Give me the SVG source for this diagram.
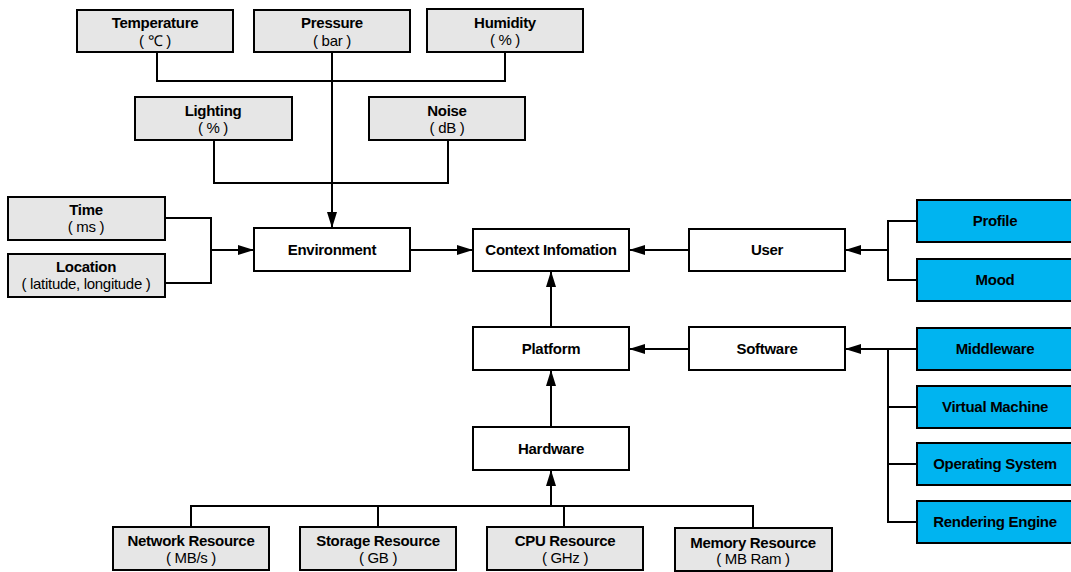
<svg xmlns="http://www.w3.org/2000/svg" width="1071" height="572" viewBox="0 0 1071 572">
<style>
.g{fill:#e6e6e6;stroke:#000;stroke-width:2}
.w{fill:#fff;stroke:#000;stroke-width:2}
.b{fill:#00b4f0;stroke:#000;stroke-width:2}
.t{font-family:"Liberation Sans",Arial,sans-serif;font-weight:bold;font-size:15px;text-anchor:middle;fill:#000;letter-spacing:-0.3px}
.u{font-family:"Liberation Sans",Arial,sans-serif;font-size:15px;text-anchor:middle;fill:#000;letter-spacing:-0.3px}
.c{fill:none;stroke:#000;stroke-width:2}
</style>
<defs>
<marker id="ah" markerUnits="userSpaceOnUse" markerWidth="17" markerHeight="12" refX="16" refY="5" orient="auto">
<path d="M0,0 L16,5 L0,10 z" fill="#000"/>
</marker>
</defs>
<rect width="1071" height="572" fill="#fff"/>
<g id="connectors">
<path class="c" d="M157,52 V81 H505 V52"/>
<path class="c" d="M214,140 V183 H448 V140"/>
<path class="c" d="M332,52 V228" marker-end="url(#ah)"/>
<path class="c" d="M165,218 H211 V283 H165"/>
<path class="c" d="M211,250 H254" marker-end="url(#ah)"/>
<path class="c" d="M410,250 H473" marker-end="url(#ah)"/>
<path class="c" d="M689,250 H629" marker-end="url(#ah)"/>
<path class="c" d="M917,221 H888 V280 H917"/>
<path class="c" d="M888,250 H845" marker-end="url(#ah)"/>
<path class="c" d="M551,327 V271" marker-end="url(#ah)"/>
<path class="c" d="M689,349 H629" marker-end="url(#ah)"/>
<path class="c" d="M917,349 H845" marker-end="url(#ah)"/>
<path class="c" d="M888,349 V522 H917 M888,407 H917 M888,464 H917"/>
<path class="c" d="M551,427 V370" marker-end="url(#ah)"/>
<path class="c" d="M191,527 V506 H753 V527 M378,506 V527 M564,506 V527"/>
<path class="c" d="M551,506 V470" marker-end="url(#ah)"/>
</g>
<g id="temperature"><rect class="g" x="77" y="10" width="156" height="42"/><text class="t" x="155" y="28">Temperature</text><text class="u" x="155" y="46">( ℃ )</text></g>
<g id="pressure"><rect class="g" x="254" y="10" width="156" height="42"/><text class="t" x="332" y="28">Pressure</text><text class="u" x="332" y="46">( bar )</text></g>
<g id="humidity"><rect class="g" x="427" y="9" width="156" height="43"/><text class="t" x="505" y="28">Humidity</text><text class="u" x="505" y="45">( % )</text></g>
<g id="lighting"><rect class="g" x="135" y="97" width="157" height="43"/><text class="t" x="213" y="116">Lighting</text><text class="u" x="213" y="133">( % )</text></g>
<g id="noise"><rect class="g" x="369" y="97" width="156" height="43"/><text class="t" x="447" y="116">Noise</text><text class="u" x="447" y="133">( dB )</text></g>
<g id="time"><rect class="g" x="8" y="197" width="157" height="43"/><text class="t" x="86" y="215">Time</text><text class="u" x="86" y="232">( ms )</text></g>
<g id="location"><rect class="g" x="8" y="254" width="157" height="43"/><text class="t" x="86" y="272">Location</text><text class="u" x="86" y="289">( latitude, longitude )</text></g>
<g id="environment"><rect class="w" x="254" y="228" width="156" height="43"/><text class="t" x="332" y="255">Environment</text></g>
<g id="context"><rect class="w" x="473" y="229" width="156" height="42"/><text class="t" x="551" y="255">Context Infomation</text></g>
<g id="user"><rect class="w" x="689" y="229" width="156" height="42"/><text class="t" x="767" y="255">User</text></g>
<g id="profile"><rect class="b" x="917" y="200" width="156" height="42"/><text class="t" x="995" y="226">Profile</text></g>
<g id="mood"><rect class="b" x="917" y="259" width="156" height="42"/><text class="t" x="995" y="285">Mood</text></g>
<g id="platform"><rect class="w" x="473" y="327" width="156" height="43"/><text class="t" x="551" y="354">Platform</text></g>
<g id="software"><rect class="w" x="689" y="327" width="156" height="43"/><text class="t" x="767" y="354">Software</text></g>
<g id="middleware"><rect class="b" x="917" y="328" width="156" height="42"/><text class="t" x="995" y="354">Middleware</text></g>
<g id="vm"><rect class="b" x="917" y="386" width="156" height="42"/><text class="t" x="995" y="412">Virtual Machine</text></g>
<g id="os"><rect class="b" x="917" y="443" width="156" height="42"/><text class="t" x="995" y="469">Operating System</text></g>
<g id="rendering"><rect class="b" x="917" y="501" width="156" height="42"/><text class="t" x="995" y="527">Rendering Engine</text></g>
<g id="hardware"><rect class="w" x="473" y="427" width="156" height="43"/><text class="t" x="551" y="454">Hardware</text></g>
<g id="network"><rect class="g" x="113" y="527" width="156" height="43"/><text class="t" x="191" y="546">Network Resource</text><text class="u" x="191" y="563">( MB/s )</text></g>
<g id="storage"><rect class="g" x="300" y="527" width="156" height="43"/><text class="t" x="378" y="546">Storage Resource</text><text class="u" x="378" y="563">( GB )</text></g>
<g id="cpu"><rect class="g" x="487" y="527" width="156" height="43"/><text class="t" x="565" y="546">CPU Resource</text><text class="u" x="565" y="563">( GHz )</text></g>
<g id="memory"><rect class="g" x="675" y="528" width="157" height="43"/><text class="t" x="753" y="548">Memory Resource</text><text class="u" x="753" y="564">( MB Ram )</text></g>
</svg>
